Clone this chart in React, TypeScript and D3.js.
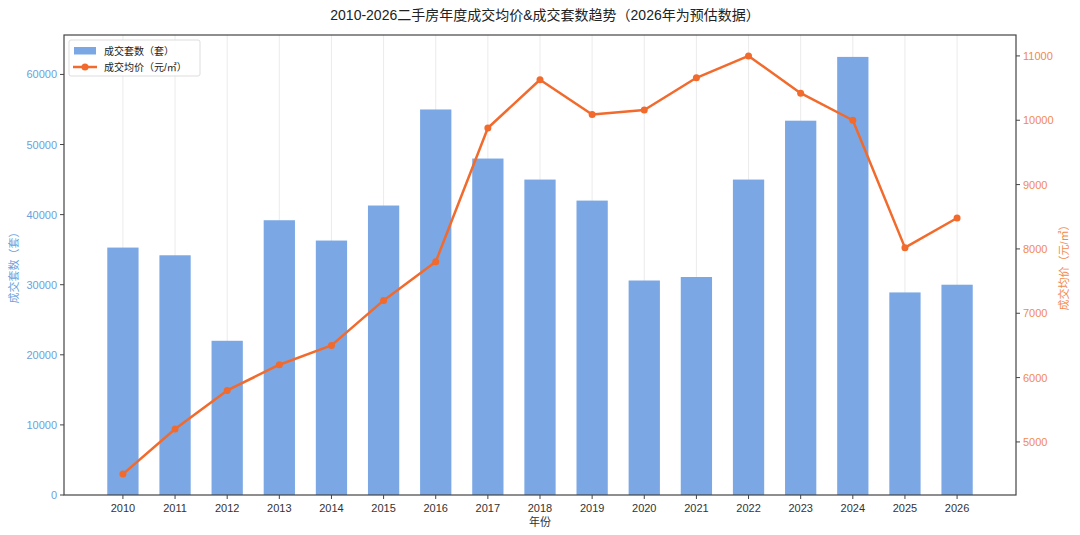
import * as d3 from "d3";

const years = ["2010", "2011", "2012", "2013", "2014", "2015", "2016", "2017", "2018", "2019", "2020", "2021", "2022", "2023", "2024", "2025", "2026"];
const deals = [35300, 34200, 22000, 39200, 36300, 41300, 55000, 48000, 45000, 42000, 30600, 31100, 45000, 53400, 62500, 28900, 30000];
const prices = [4500, 5200, 5800, 6200, 6500, 7200, 7800, 9880, 10630, 10090, 10160, 10660, 11000, 10420, 10000, 8020, 8480];
const dealTicks = [0, 10000, 20000, 30000, 40000, 50000, 60000];
const priceTicks = [5000, 6000, 7000, 8000, 9000, 10000, 11000];

const title = "2010-2026二手房年度成交均价&成交套数趋势（2026年为预估数据）";
const FONT = "'Liberation Sans', 'Noto Sans CJK SC', sans-serif";
const BAR = "#7ba8e4";
const LINE = "#f26a2c";
const LEFT_TXT = "#6d9fdc";
const RIGHT_TXT = "#f28a4e";
const AXIS = "#444";

export default function App() {
  const W = 1080;
  const H = 535;
  const m = { left: 64, right: 1016, top: 35, bottom: 495 };

  const barW = 0.6;
  const n = years.length;
  const span = (n - 1) + barW;
  const pad = span * 0.05;
  const x = d3.scaleLinear().domain([-barW / 2 - pad, n - 1 + barW / 2 + pad]).range([m.left, m.right]);

  const yL = d3.scaleLinear().domain([0, d3.max(deals)! * 1.05]).range([m.bottom, m.top]);
  const pMin = d3.min(prices)!;
  const pMax = d3.max(prices)!;
  const pPad = (pMax - pMin) * 0.05;
  const yR = d3.scaleLinear().domain([pMin - pPad, pMax + pPad]).range([m.bottom, m.top]);

  const line = d3.line<number>()
    .x((_, i) => x(i))
    .y((d) => yR(d));

  const bw = x(barW) - x(0);

  return (
    <svg width={W} height={H} style={{ position: "absolute", left: 0, top: 0, background: "#fff" }} fontFamily={FONT}>
      <text x={(m.left + m.right) / 2 + 5} y={20} textAnchor="middle" fontSize={14} fill="#222">{title}</text>

      {/* vertical grid */}
      {years.map((_, i) => (
        <line key={"g" + i} x1={x(i)} x2={x(i)} y1={m.top} y2={m.bottom} stroke="#e6e6e6" strokeWidth={0.8} />
      ))}

      {deals.map((d, i) => (
        <rect key={"b" + i} x={x(i) - bw / 2} y={yL(d)} width={bw} height={yL(0) - yL(d)} fill={BAR} />
      ))}

      <path d={line(prices)!} fill="none" stroke={LINE} strokeWidth={2.5} strokeLinejoin="round" />
      {prices.map((p, i) => (
        <circle key={"c" + i} cx={x(i)} cy={yR(p)} r={3.5} fill={LINE} />
      ))}

      {/* frame */}
      <rect x={m.left} y={m.top} width={m.right - m.left} height={m.bottom - m.top} fill="none" stroke={AXIS} strokeWidth={1.2} />

      {/* x axis */}
      {years.map((yr, i) => (
        <g key={"x" + i}>
          <line x1={x(i)} x2={x(i)} y1={m.bottom} y2={m.bottom + 4} stroke={AXIS} />
          <text x={x(i)} y={m.bottom + 17} textAnchor="middle" fontSize={11} fill="#333">{yr}</text>
        </g>
      ))}
      <text x={(m.left + m.right) / 2} y={526} textAnchor="middle" fontSize={11} fill="#333">年份</text>

      {/* left axis */}
      {dealTicks.map((t) => (
        <g key={"l" + t}>
          <line x1={m.left - 4} x2={m.left} y1={yL(t)} y2={yL(t)} stroke={AXIS} />
          <text x={m.left - 7} y={yL(t) + 4} textAnchor="end" fontSize={11} fill={LEFT_TXT}>{t}</text>
        </g>
      ))}
      <text transform={`translate(18,${(m.top + m.bottom) / 2}) rotate(-90)`} textAnchor="middle" fontSize={11} fill={LEFT_TXT}>成交套数（套）</text>

      {/* right axis */}
      {priceTicks.map((t) => (
        <g key={"r" + t}>
          <line x1={m.right} x2={m.right + 4} y1={yR(t)} y2={yR(t)} stroke={AXIS} />
          <text x={m.right + 7} y={yR(t) + 4} textAnchor="start" fontSize={11} fill={RIGHT_TXT}>{t}</text>
        </g>
      ))}
      <text transform={`translate(1068,${(m.top + m.bottom) / 2}) rotate(-90)`} textAnchor="middle" fontSize={11} fill={RIGHT_TXT}>成交均价（元/㎡）</text>

      {/* legend */}
      <g transform={`translate(${m.left + 5},${m.top + 5})`}>
        <rect x={0} y={0} width={131} height={36} rx={2} fill="#fff" fillOpacity={0.85} stroke="#ddd" />
        <rect x={5} y={7} width={22} height={7.5} fill={BAR} />
        <text x={35} y={15} fontSize={10} fill="#222">成交套数（套）</text>
        <line x1={4} x2={28} y1={27} y2={27} stroke={LINE} strokeWidth={2.5} />
        <circle cx={16} cy={27} r={3.5} fill={LINE} />
        <text x={35} y={31} fontSize={10} fill="#222">成交均价（元/㎡）</text>
      </g>
    </svg>
  );
}
